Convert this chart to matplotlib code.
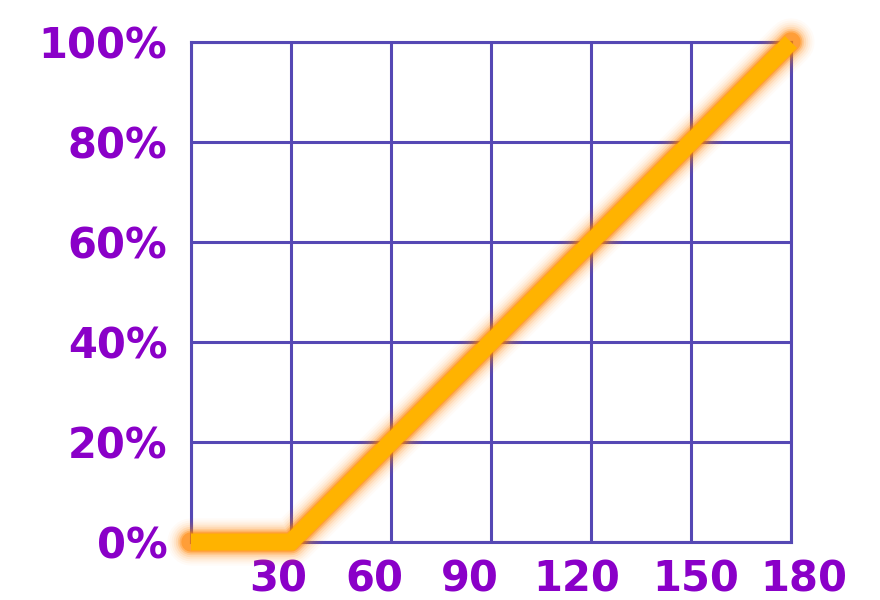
import matplotlib
matplotlib.use("Agg")
import matplotlib.pyplot as plt
from matplotlib.transforms import ScaledTranslation

x_vals = [0, 30, 180]
y_vals = [0, 0, 100]
x_ticks = [30, 60, 90, 120, 150, 180]
x_labels = ["30", "60", "90", "120", "150", "180"]
y_ticks = [0, 20, 40, 60, 80, 100]
y_labels = ["0%", "20%", "40%", "60%", "80%", "100%"]

GRID = "#5548b4"
LABEL = "#8a00c8"
LINE = "#ffb300"
GLOW = "#ff8400"

fig = plt.figure(figsize=(8.8, 6.0), dpi=100)
ax = fig.add_axes([191/880, 58/600, 600/880, 500/600])
ax.set_xlim(0, 180)
ax.set_ylim(0, 100)

ax.set_xticks([0] + x_ticks)
ax.set_xticklabels([""] + x_labels)
ax.set_yticks(y_ticks)
ax.set_yticklabels(y_labels)

ax.grid(True, color=GRID, linewidth=2.2)
ax.set_axisbelow(True)
for s in ax.spines.values():
    s.set_color(GRID)
    s.set_linewidth(2.2)
ax.tick_params(length=0)
ax.tick_params(axis="x", pad=12)
ax.tick_params(axis="y", pad=17)
for lab in ax.get_xticklabels() + ax.get_yticklabels():
    lab.set_fontfamily("DejaVu Sans")
    lab.set_fontweight("heavy")
    lab.set_fontsize(30)
    lab.set_color(LABEL)

# horizontal nudges of x tick labels (pixels) to mimic reference layout
offsets = [0, -13, -17, -21, -14, 5, 13]
for lab, off in zip(ax.get_xticklabels(), offsets):
    lab.set_transform(lab.get_transform() + ScaledTranslation(off/100, 0, fig.dpi_scale_trans))

# glow
for lw, a in [(34, 0.03), (31, 0.04), (28, 0.06), (25, 0.08), (22, 0.12),
              (19, 0.18), (16.5, 0.3), (14, 0.45)]:
    ax.plot(x_vals, y_vals, color=GLOW, linewidth=lw, alpha=a,
            solid_capstyle="round", solid_joinstyle="round", clip_on=False, zorder=3)
ax.plot(x_vals, y_vals, color=LINE, linewidth=12.2,
        solid_capstyle="butt", solid_joinstyle="miter", clip_on=False, zorder=4)

fig.savefig("out.png", dpi=100, facecolor="white")
